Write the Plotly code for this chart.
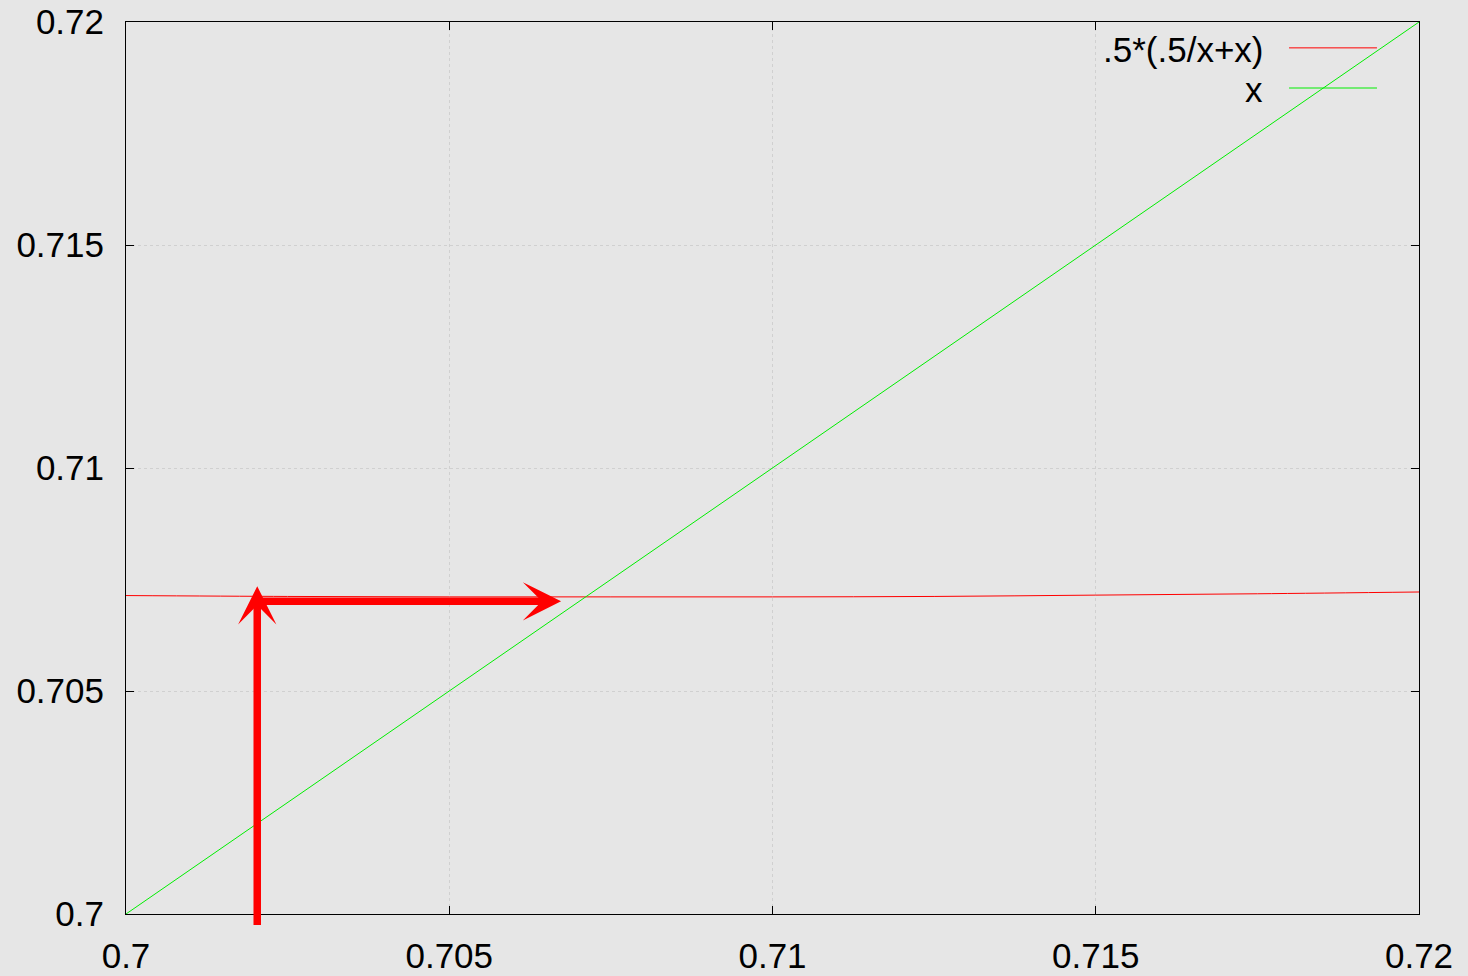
import plotly.graph_objects as go

# Axis ticks
tick_vals = [0.700, 0.705, 0.710, 0.715, 0.720]
tick_text = ["0.7", "0.705", "0.71", "0.715", "0.72"]

# Curve .5*(.5/x+x) sampled across the window
curve_x = [0.700, 0.7025, 0.705, 0.7075, 0.710, 0.7125, 0.715, 0.7175, 0.720]
curve_y = [0.70714, 0.70712, 0.70711, 0.70711, 0.70711, 0.70712, 0.70715, 0.70718, 0.70722]

# Identity line y = x
ident_x = [0.700, 0.720]
ident_y = [0.700, 0.720]

# Cobweb step: up from x0 to the curve, then across to the diagonal
step_up = {"tail": (0.70203, 0.69972), "head": (0.70203, 0.70735)}
step_across = {"tail": (0.70203, 0.70701), "head": (0.70673, 0.70701)}

FONT = "Liberation Sans, Arial, sans-serif"
RED = "#ff0000"
GREEN = "#00ee00"

fig = go.Figure()
fig.add_trace(go.Scatter(x=curve_x, y=curve_y, mode="lines",
                         line=dict(color=RED, width=1), line_shape="spline",
                         name=".5*(.5/x+x)", showlegend=False))
fig.add_trace(go.Scatter(x=ident_x, y=ident_y, mode="lines",
                         line=dict(color=GREEN, width=1),
                         name="x", showlegend=False))

for arrow in (step_up, step_across):
    (ax, ay), (hx, hy) = arrow["tail"], arrow["head"]
    fig.add_annotation(x=hx, y=hy, ax=ax, ay=ay, xref="x", yref="y",
                       axref="x", ayref="y", showarrow=True, text="",
                       arrowhead=3, arrowsize=0.85, arrowwidth=7.5,
                       arrowcolor=RED, standoff=0, startstandoff=0)

# Key in the top-right corner: label on the left, sample line on the right
key = [(".5*(.5/x+x)", RED, 0.969), ("x", GREEN, 0.924)]
for label, color, ypos in key:
    fig.add_annotation(x=0.881, y=ypos, xref="paper", yref="paper",
                       text=label, showarrow=False, xanchor="right",
                       yanchor="middle", font=dict(family=FONT, size=35, color="black"))
    fig.add_shape(type="line", xref="paper", yref="paper",
                  x0=0.8995, x1=0.9675, y0=ypos + 0.002, y1=ypos + 0.002,
                  line=dict(color=color, width=1))

axis_common = dict(
    range=[0.700, 0.720], tickvals=tick_vals, ticktext=tick_text,
    ticks="inside", ticklen=8, tickwidth=1, tickcolor="black",
    showline=True, linecolor="black", linewidth=1, mirror="ticks",
    showgrid=True, gridcolor="rgba(150,150,150,0.28)", gridwidth=1, griddash="dot",
    zeroline=False, tickfont=dict(family=FONT, size=35, color="black"),
)

fig.update_layout(
    width=1468, height=976,
    margin=dict(l=126, r=49, t=22, b=62, autoexpand=False),
    paper_bgcolor="#e6e6e6", plot_bgcolor="#e6e6e6",
    xaxis=dict(**axis_common, ticklabelstandoff=11),
    yaxis=dict(**axis_common, ticklabelstandoff=14),
    showlegend=False,
)

fig.write_html("out.html")
